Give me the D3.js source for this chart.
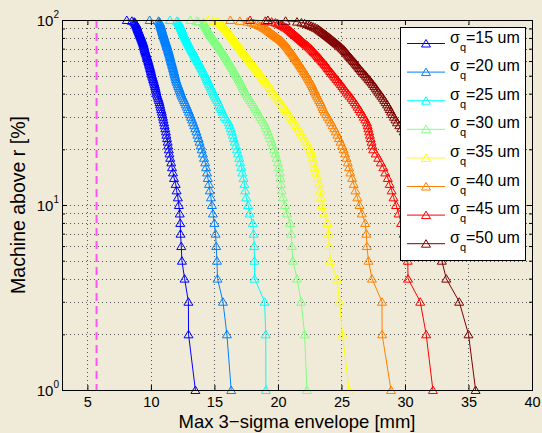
<!DOCTYPE html>
<html>
<head>
<meta charset="utf-8">
<script src="https://cdn.jsdelivr.net/npm/d3@7"></script>
<style>
  body { margin: 0; background: #f0ebd8; }
  svg { display: block; font-family: "Liberation Sans", Arial, sans-serif; }
</style>
</head>
<body>
<svg id="chart" width="542" height="433"></svg>
<script>
// percentage of machines above r (y) for every sample point
const machinePercent = [1,2,3,4,5,6,7,8,9,10,11,12,13,14,15,16,17,18,19,20,
  21,22,23,24,25,26,27,28,29,30,31,32,33,34,35,36,37,38,39,40,
  41,42,43,44,45,46,47,48,49,50,51,52,53,54,55,56,57,58,59,60,
  61,62,63,64,65,66,67,68,69,70,71,72,73,74,75,76,77,78,79,80,
  81,82,83,84,85,86,87,88,89,90,91,92,93,94,95,96,97,98,99,100];

const sigmaLabels = ['15', '20', '25', '30', '35', '40', '45', '50'];
const seriesColors = ['#0000ff', '#0080ff', '#00ffff', '#80ff80', '#ffff00', '#ff8000', '#ff0000', '#800000'];

// max 3-sigma envelope [mm], one value per entry of machinePercent
const env15 = [13.5, 12.96, 12.95, 12.65, 12.44, 12.39, 12.33, 12.31, 12.27, 12.2,
  12.12, 12.02, 11.95, 11.82, 11.74, 11.66, 11.6, 11.52, 11.46, 11.41,
  11.36, 11.32, 11.27, 11.22, 11.18, 11.13, 11.08, 11.04, 10.99, 10.95,
  10.9, 10.86, 10.81, 10.76, 10.72, 10.68, 10.63, 10.58, 10.52, 10.47,
  10.43, 10.4, 10.37, 10.33, 10.3, 10.26, 10.22, 10.18, 10.14, 10.1,
  10.07, 10.04, 10.01, 9.98, 9.95, 9.92, 9.89, 9.86, 9.83, 9.8,
  9.77, 9.74, 9.71, 9.68, 9.65, 9.62, 9.59, 9.56, 9.53, 9.5,
  9.48, 9.46, 9.44, 9.42, 9.4, 9.37, 9.34, 9.31, 9.28, 9.25,
  9.22, 9.19, 9.16, 9.13, 9.1, 9.07, 9.04, 9.01, 8.98, 8.95,
  8.93, 8.91, 8.89, 8.86, 8.83, 8.79, 8.75, 8.68, 8.5, 8.1];
const env20 = [16.32, 15.98, 15.67, 15.24, 15.2, 15.14, 15.09, 15.0, 14.88, 14.8,
  14.72, 14.64, 14.57, 14.48, 14.42, 14.35, 14.27, 14.18, 14.09, 14.0,
  13.92, 13.83, 13.75, 13.66, 13.58, 13.49, 13.41, 13.32, 13.24, 13.15,
  13.07, 12.99, 12.91, 12.83, 12.75, 12.67, 12.6, 12.52, 12.44, 12.38,
  12.33, 12.27, 12.22, 12.16, 12.11, 12.06, 12.01, 11.97, 11.93, 11.9,
  11.87, 11.84, 11.81, 11.78, 11.75, 11.72, 11.69, 11.66, 11.63, 11.6,
  11.57, 11.54, 11.52, 11.5, 11.47, 11.44, 11.42, 11.39, 11.36, 11.34,
  11.31, 11.28, 11.26, 11.23, 11.2, 11.18, 11.15, 11.12, 11.1, 11.07,
  11.04, 11.02, 11.0, 10.97, 10.95, 10.92, 10.9, 10.88, 10.86, 10.84,
  10.82, 10.8, 10.78, 10.76, 10.74, 10.72, 10.7, 10.67, 10.6, 9.9];
const env25 = [19.05, 19.04, 18.95, 18.16, 18.15, 18.13, 18.08, 18.02, 17.76, 17.65,
  17.5, 17.42, 17.36, 17.29, 17.2, 17.12, 17.04, 16.95, 16.86, 16.77,
  16.69, 16.6, 16.52, 16.44, 16.36, 16.28, 16.2, 16.12, 15.96, 15.8,
  15.72, 15.63, 15.55, 15.46, 15.38, 15.3, 15.21, 15.12, 15.03, 14.95,
  14.88, 14.81, 14.74, 14.67, 14.6, 14.54, 14.48, 14.42, 14.36, 14.3,
  14.24, 14.18, 14.12, 14.06, 14.0, 13.94, 13.88, 13.82, 13.76, 13.7,
  13.64, 13.58, 13.52, 13.47, 13.42, 13.37, 13.32, 13.27, 13.22, 13.17,
  13.12, 13.07, 13.02, 12.98, 12.94, 12.9, 12.86, 12.82, 12.78, 12.74,
  12.7, 12.66, 12.62, 12.58, 12.55, 12.52, 12.49, 12.46, 12.43, 12.4,
  12.37, 12.34, 12.31, 12.28, 12.25, 12.22, 12.19, 12.15, 12.05, 11.5];
const env30 = [22.28, 22.1, 21.83, 21.5, 21.18, 21.1, 21.05, 20.97, 20.7, 20.55,
  20.4, 20.3, 20.25, 20.2, 20.15, 20.08, 20.0, 19.9, 19.8, 19.7,
  19.6, 19.5, 19.4, 19.3, 19.2, 19.1, 19.0, 18.9, 18.75, 18.6,
  18.49, 18.38, 18.27, 18.16, 18.05, 17.94, 17.83, 17.72, 17.6, 17.5,
  17.42, 17.35, 17.27, 17.2, 17.13, 17.06, 16.99, 16.92, 16.85, 16.77,
  16.7, 16.63, 16.56, 16.5, 16.43, 16.36, 16.3, 16.23, 16.17, 16.1,
  16.04, 15.98, 15.91, 15.85, 15.79, 15.73, 15.67, 15.61, 15.55, 15.49,
  15.43, 15.37, 15.31, 15.25, 15.19, 15.13, 15.07, 15.01, 14.95, 14.89,
  14.83, 14.77, 14.71, 14.66, 14.62, 14.58, 14.54, 14.5, 14.46, 14.42,
  14.38, 14.34, 14.3, 14.26, 14.22, 14.18, 14.14, 13.75, 13.6, 13.1];
const env35 = [25.6, 25.08, 24.85, 24.65, 24.12, 24.04, 24.0, 23.9, 23.6, 23.48,
  23.4, 23.33, 23.25, 23.12, 23.0, 22.9, 22.82, 22.74, 22.64, 22.54,
  22.38, 22.22, 22.06, 21.9, 21.75, 21.6, 21.45, 21.3, 21.15, 21.0,
  20.86, 20.72, 20.59, 20.46, 20.33, 20.2, 20.07, 19.94, 19.82, 19.7,
  19.6, 19.5, 19.4, 19.3, 19.2, 19.1, 19.0, 18.9, 18.8, 18.7,
  18.61, 18.52, 18.43, 18.35, 18.26, 18.17, 18.08, 17.99, 17.91, 17.83,
  17.75, 17.67, 17.59, 17.5, 17.43, 17.36, 17.29, 17.22, 17.15, 17.08,
  17.01, 16.94, 16.88, 16.82, 16.76, 16.7, 16.64, 16.58, 16.52, 16.46,
  16.4, 16.34, 16.28, 16.22, 16.16, 16.1, 16.04, 15.98, 15.92, 15.86,
  15.8, 15.74, 15.67, 15.6, 15.52, 15.43, 15.33, 15.2, 14.9, 14.5];
const env40 = [28.9, 28.2, 28.19, 27.4, 27.13, 27.0, 26.96, 26.87, 26.6, 26.42,
  26.25, 26.1, 25.97, 25.84, 25.7, 25.6, 25.5, 25.4, 25.28, 25.17,
  25.05, 24.93, 24.8, 24.68, 24.55, 24.43, 24.3, 24.18, 24.05, 23.92,
  23.8, 23.68, 23.58, 23.5, 23.42, 23.34, 23.25, 23.16, 23.07, 23.0,
  22.93, 22.86, 22.79, 22.72, 22.65, 22.58, 22.5, 22.43, 22.35, 22.28,
  22.2, 22.13, 22.05, 21.98, 21.9, 21.82, 21.75, 21.68, 21.61, 21.54,
  21.47, 21.4, 21.33, 21.26, 21.19, 21.12, 21.05, 20.98, 20.91, 20.85,
  20.78, 20.71, 20.63, 20.55, 20.47, 20.39, 20.31, 20.23, 20.12, 20.0,
  19.9, 19.8, 19.7, 19.6, 19.5, 19.4, 19.3, 19.2, 19.1, 19.0,
  18.88, 18.76, 18.63, 18.48, 18.3, 18.1, 17.9, 17.6, 17.0, 16.25];
const env45 = [32.2, 31.67, 31.2, 30.24, 30.22, 30.05, 29.9, 29.7, 29.5, 29.3,
  29.1, 28.95, 28.8, 28.65, 28.45, 28.3, 28.1, 27.9, 27.7, 27.5,
  27.43, 27.37, 27.3, 27.24, 27.18, 27.12, 27.06, 27.0, 26.88, 26.76,
  26.64, 26.52, 26.4, 26.28, 26.16, 26.04, 25.92, 25.8, 25.66, 25.53,
  25.4, 25.29, 25.18, 25.07, 24.96, 24.85, 24.74, 24.63, 24.52, 24.42,
  24.32, 24.22, 24.12, 24.03, 23.94, 23.85, 23.76, 23.67, 23.58, 23.49,
  23.4, 23.31, 23.22, 23.13, 23.04, 22.95, 22.86, 22.78, 22.7, 22.6,
  22.5, 22.4, 22.3, 22.2, 22.1, 22.0, 21.91, 21.82, 21.73, 21.64,
  21.55, 21.46, 21.37, 21.28, 21.19, 21.1, 21.02, 20.95, 20.85, 20.75,
  20.64, 20.52, 20.4, 20.27, 20.13, 19.98, 19.8, 19.5, 19.0, 17.8];
const env50 = [35.56, 35.0, 34.27, 33.25, 32.9, 32.75, 32.6, 32.45, 32.3, 32.15,
  32.0, 31.85, 31.7, 31.55, 31.4, 31.25, 31.1, 30.95, 30.8, 30.65,
  30.5, 30.35, 30.2, 30.05, 29.9, 29.72, 29.55, 29.37, 29.25, 29.13,
  29.0, 28.9, 28.8, 28.7, 28.59, 28.48, 28.37, 28.26, 28.14, 28.02,
  27.9, 27.8, 27.7, 27.59, 27.48, 27.37, 27.26, 27.15, 27.04, 26.93,
  26.82, 26.71, 26.6, 26.5, 26.41, 26.32, 26.23, 26.14, 26.05, 25.96,
  25.87, 25.78, 25.69, 25.6, 25.52, 25.44, 25.36, 25.28, 25.2, 25.1,
  25.0, 24.9, 24.8, 24.7, 24.6, 24.5, 24.4, 24.3, 24.2, 24.1,
  24.0, 23.9, 23.8, 23.7, 23.6, 23.5, 23.4, 23.3, 23.2, 23.1,
  22.95, 22.8, 22.64, 22.48, 22.3, 22.1, 21.85, 21.5, 20.6, 19.2];

const xTicks = [5, 10, 15, 20, 25, 30, 35, 40];
const yTicks = [1, 10, 100];
const yMinorTicks = [2, 3, 4, 5, 6, 7, 8, 9, 20, 30, 40, 50, 60, 70, 80, 90];
const limitEnvelope = 5.72;

const BG = '#f0ebd8';
const WIDTH = 542;
const HEIGHT = 433;
const AXES = { left: 62, right: 532, top: 20, bottom: 390 };
const TRIANGLE = 'M0,-4L4.5,3.5L-4.5,3.5Z';

const series = [env15, env20, env25, env30, env35, env40, env45, env50].map((values, i) => ({
  label: sigmaLabels[i],
  color: seriesColors[i],
  points: values.map((v, j) => ({ x: v, y: machinePercent[j] }))
}));

const x = d3.scaleLinear().domain([3, 40]).range([AXES.left, AXES.right]);
const y = d3.scaleLog().domain([1, 100]).range([AXES.bottom, AXES.top]);

const svg = d3.select('#chart');
svg.append('rect').attr('width', WIDTH).attr('height', HEIGHT).attr('fill', BG);

// dotted grid
const grid = svg.append('g').classed('grid', true)
  .attr('stroke', '#555').attr('stroke-width', 1).attr('stroke-dasharray', '1,3')
  .attr('shape-rendering', 'crispEdges');
grid.selectAll('.vgrid').data(xTicks.filter(d => d < 40)).enter().append('line')
  .attr('x1', d => Math.round(x(d)) + 0.5).attr('x2', d => Math.round(x(d)) + 0.5)
  .attr('y1', AXES.top).attr('y2', AXES.bottom);
grid.selectAll('.hgrid').data(yMinorTicks.concat([10])).enter().append('line')
  .attr('y1', d => Math.round(y(d)) + 0.5).attr('y2', d => Math.round(y(d)) + 0.5)
  .attr('x1', AXES.left).attr('x2', AXES.right);

// limit line
svg.append('line')
  .attr('x1', x(limitEnvelope)).attr('x2', x(limitEnvelope))
  .attr('y1', y(100)).attr('y2', y(1))
  .attr('stroke', '#ff55ee').attr('stroke-width', 2).attr('stroke-dasharray', '8,5');

// curves
const line = d3.line().x(d => x(d.x)).y(d => y(d.y));
const curves = svg.append('g').selectAll('.curve').data(series).enter().append('g')
  .classed('curve', true);
curves.append('path')
  .attr('d', d => line(d.points))
  .attr('fill', 'none').attr('stroke', d => d.color).attr('stroke-width', 1);
curves.each(function (s) {
  d3.select(this).selectAll('.marker').data(s.points).enter().append('path')
    .classed('marker', true)
    .attr('d', TRIANGLE)
    .attr('transform', d => `translate(${x(d.x)},${y(d.y)})`)
    .attr('fill', 'none').attr('stroke', s.color).attr('stroke-width', 1);
});

// axes box and inward ticks
const axes = svg.append('g').attr('font-size', 14.5);
const tidy = g => {
  g.attr('font-size', null).attr('font-family', null);
  g.select('.domain').remove();
  g.selectAll('line').attr('stroke', '#000');
  g.selectAll('text').attr('fill', '#000');
};
axes.append('g').attr('transform', `translate(0,${AXES.bottom})`)
  .call(d3.axisBottom(x).tickValues(xTicks).tickSize(-5).tickPadding(7)).call(tidy);
axes.append('g').attr('transform', `translate(0,${AXES.top})`)
  .call(d3.axisTop(x).tickValues(xTicks).tickSize(-5).tickFormat('')).call(tidy);
axes.append('g').attr('transform', `translate(${AXES.left},0)`)
  .call(d3.axisLeft(y).tickValues(yTicks).tickSize(-5).tickFormat('')).call(tidy);
axes.append('g').attr('transform', `translate(${AXES.left},0)`)
  .call(d3.axisLeft(y).tickValues(yMinorTicks).tickSize(-3).tickFormat('')).call(tidy);
axes.append('g').attr('transform', `translate(${AXES.right},0)`)
  .call(d3.axisRight(y).tickValues(yTicks).tickSize(-5).tickFormat('')).call(tidy);
axes.append('g').attr('transform', `translate(${AXES.right},0)`)
  .call(d3.axisRight(y).tickValues(yMinorTicks).tickSize(-3).tickFormat('')).call(tidy);

// 10^n labels
const yLabels = axes.selectAll('.ylabel').data(yTicks).enter().append('text')
  .classed('ylabel', true)
  .attr('x', AXES.left - 3).attr('y', d => y(d) + 6)
  .attr('text-anchor', 'end').attr('font-size', 15);
yLabels.append('tspan').text('10');
yLabels.append('tspan').attr('dy', -8).attr('font-size', 10).text(d => Math.round(Math.log10(d)));

axes.append('rect')
  .attr('x', AXES.left + 0.5).attr('y', AXES.top + 0.5)
  .attr('width', AXES.right - AXES.left).attr('height', AXES.bottom - AXES.top)
  .attr('fill', 'none').attr('stroke', '#000').attr('stroke-width', 1);

svg.append('text')
  .attr('x', (AXES.left + AXES.right) / 2).attr('y', 428)
  .attr('text-anchor', 'middle').attr('font-size', 18.5)
  .text('Max 3\u2212sigma envelope [mm]');
svg.append('text')
  .attr('transform', `translate(25,${(AXES.top + AXES.bottom) / 2}) rotate(-90)`)
  .attr('text-anchor', 'middle').attr('font-size', 19.5)
  .text('Machine above r [%]');

// legend
const legend = svg.append('g').attr('transform', 'translate(400,27)');
legend.append('rect')
  .attr('x', 0.5).attr('y', 0.5).attr('width', 125).attr('height', 233)
  .attr('fill', '#fff').attr('stroke', '#000').attr('stroke-width', 1);
const entries = legend.selectAll('.entry').data(series).enter().append('g')
  .classed('entry', true)
  .attr('transform', (d, i) => `translate(0,${16.5 + i * 28.6})`);
entries.append('line')
  .attr('x1', 7).attr('x2', 45).attr('y1', 0).attr('y2', 0)
  .attr('stroke', d => d.color).attr('stroke-width', 1);
entries.append('path')
  .attr('d', TRIANGLE).attr('transform', 'translate(26,0)')
  .attr('fill', 'none').attr('stroke', d => d.color).attr('stroke-width', 1);
const entryText = entries.append('text')
  .attr('x', 50).attr('y', -1).attr('font-size', 16);
entryText.append('tspan').text('\u03c3');
entryText.append('tspan').attr('dy', 8).attr('font-size', 11).text('q');
entryText.append('tspan').attr('dy', -8).text(d => `=${d.label} um`);
</script>
</body>
</html>
